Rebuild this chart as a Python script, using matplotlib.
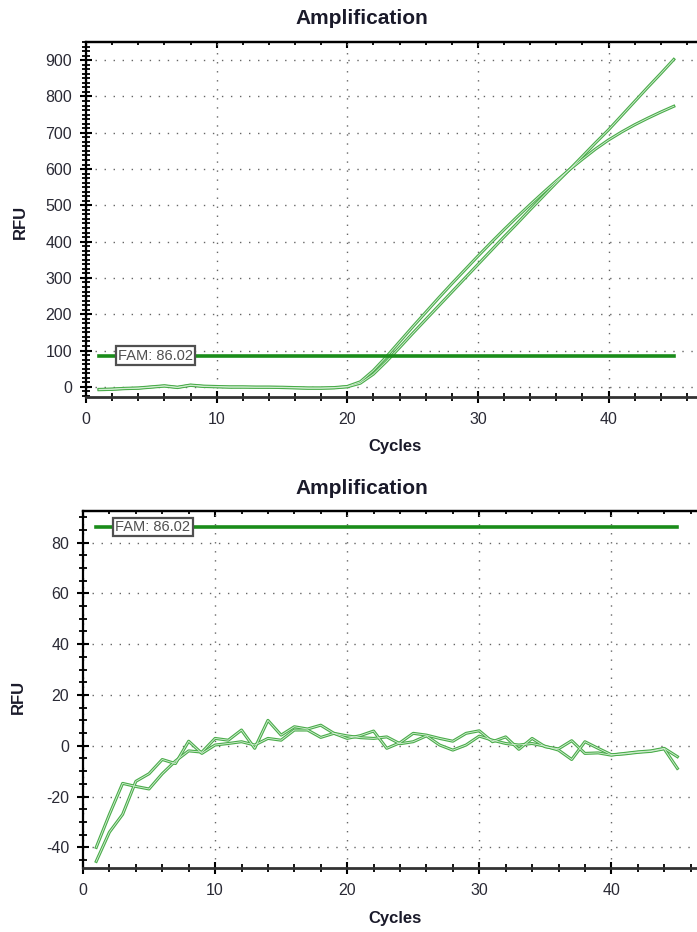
import matplotlib.pyplot as plt
from matplotlib.ticker import MultipleLocator, AutoMinorLocator

plt.rcParams['font.family'] = ['Liberation Sans', 'DejaVu Sans']
plt.rcParams['axes.unicode_minus'] = False

# ---------- data ----------
cycles = list(range(1, 46))

# top panel: two amplification curves
top_a = [-8, -7, -5, -4, -1, 2, -2, 4, 1, 0,
         -1, -1, -1, -1, -2, -3, -4, -4, -3, 0,
         10, 35, 70, 108, 147, 185, 223, 261, 299, 337,
         375, 413, 450, 488, 525, 562, 598, 635, 672, 708,
         747, 786, 825, 863, 902]
top_b = [-7, -6, -4, -3, 0, 3, -1, 5, 2, 1,
         0, 0, -1, -1, -1, -2, -3, -3, -2, 1,
         14, 45, 83, 124, 165, 205, 245, 284, 322, 360,
         397, 433, 468, 502, 535, 567, 598, 627, 655, 680,
         702, 722, 740, 757, 773]

# bottom panel: zoom on the baseline
bot_a = [-40, -27, -14.8, -16, -17, -11, -6, -2, -2.5, 2.9,
         2.2, 6.2, -1, 10, 4.2, 7.5, 6.6, 8.1, 4.9, 2.9,
         4, 5.8, -1, 1.2, 4.9, 4.2, 2.9, 1.8, 4.9, 5.9,
         1.6, 3.5, -1.4, 2.9, -0.4, -1.2, 2, -3, -2.8, -3.7,
         -3, -2.4, -2, -1, -4.3]
bot_b = [-45.5, -34, -27, -14, -11, -5.4, -7, 1.8, -3, 0.3,
         0.9, 1.6, 0.3, 2.9, 2.2, 6.2, 6.2, 3.3, 4.9, 3.9,
         3.2, 2.9, 3.5, 0.8, 1.6, 3.9, 0.3, -1.7, 0.3, 3.8,
         2.2, 0.9, 0.3, 0.9, -0.2, -1.7, -5.4, 1.6, -1, -3.5,
         -3.2, -2.6, -2.2, -1.2, -8.9]

threshold = 86.02
threshold_label = 'FAM: 86.02'
thr_start, thr_end = 1, 45

W, H = 697, 932
fig = plt.figure(figsize=(W / 100, H / 100), dpi=100)


def px_axes(left, top, right, bottom):
    return fig.add_axes([left / W, 1 - bottom / H, (right - left) / W, (bottom - top) / H])


def draw_panel(ax, ylim, ymajor, yminor_n, series):
    for ys in series:
        ax.plot(cycles, ys, color='#4aac4a', lw=2.2, solid_joinstyle='round', zorder=3)
        ax.plot(cycles, ys, color='#d8f0d8', lw=0.6, solid_joinstyle='round', zorder=4)
    ax.plot([thr_start, thr_end], [threshold, threshold], color='#1a8c1a', lw=2.6, zorder=5)
    ax.text(2.45, threshold, threshold_label, ha='left', va='center', fontsize=10.5,
            color='#505050', zorder=6,
            bbox=dict(boxstyle='square,pad=0.15', fc='white', ec='#505050', lw=1.6))

    ax.set_xlim(0, 48)
    ax.set_ylim(*ylim)
    ax.xaxis.set_major_locator(MultipleLocator(10))
    ax.xaxis.set_minor_locator(MultipleLocator(2))
    ax.yaxis.set_major_locator(MultipleLocator(ymajor))
    ax.yaxis.set_minor_locator(AutoMinorLocator(yminor_n))
    ax.grid(True, which='major', color='#666666', linestyle=(0, (1, 5.5)), lw=1.0, zorder=1)

    ax.spines['right'].set_visible(False)
    ax.spines['left'].set_linewidth(1.6)
    ax.spines['bottom'].set_linewidth(2.0)
    ax.spines['bottom'].set_color('#333333')
    ax.spines['top'].set_linewidth(1.6)
    ax.tick_params(axis='both', which='major', direction='inout', length=8, width=1.5,
                   labelsize=11.5, labelcolor='#2a2a35')
    ax.tick_params(axis='both', which='minor', direction='inout', length=5.5, width=1.3)
    ax.tick_params(axis='y', which='major', pad=6)
    ax.tick_params(axis='x', which='major', pad=7)

    top = ax.secondary_xaxis('top')
    top.xaxis.set_major_locator(MultipleLocator(10))
    top.xaxis.set_minor_locator(MultipleLocator(2))
    top.tick_params(which='major', direction='in', length=4.5, width=1.5, labeltop=False)
    top.tick_params(which='minor', direction='in', length=2.5, width=1.3)
    top.spines['top'].set_linewidth(1.6)


ax1 = px_axes(86, 42, 713, 397)
draw_panel(ax1, (-28, 950), 100, 8, [top_a, top_b])

ax2 = px_axes(83, 511, 717, 868)
draw_panel(ax2, (-48.1, 92.4), 20, 4, [bot_a, bot_b])

for ty, cy, rx, ry in [(18, 447, 20, 222), (488, 918, 18, 697)]:
    fig.text(362 / W, 1 - ty / H, 'Amplification', ha='center', va='center',
             fontsize=15, fontweight='bold', color='#1a1a2a')
    fig.text(395 / W, 1 - cy / H, 'Cycles', ha='center', va='center',
             fontsize=12, fontweight='bold', color='#1a1a2a')
    fig.text(rx / W, 1 - ry / H, 'RFU', ha='center', va='center', rotation=90,
             fontsize=12, fontweight='bold', color='#1a1a2a')

fig.savefig('out.png', dpi=100)
